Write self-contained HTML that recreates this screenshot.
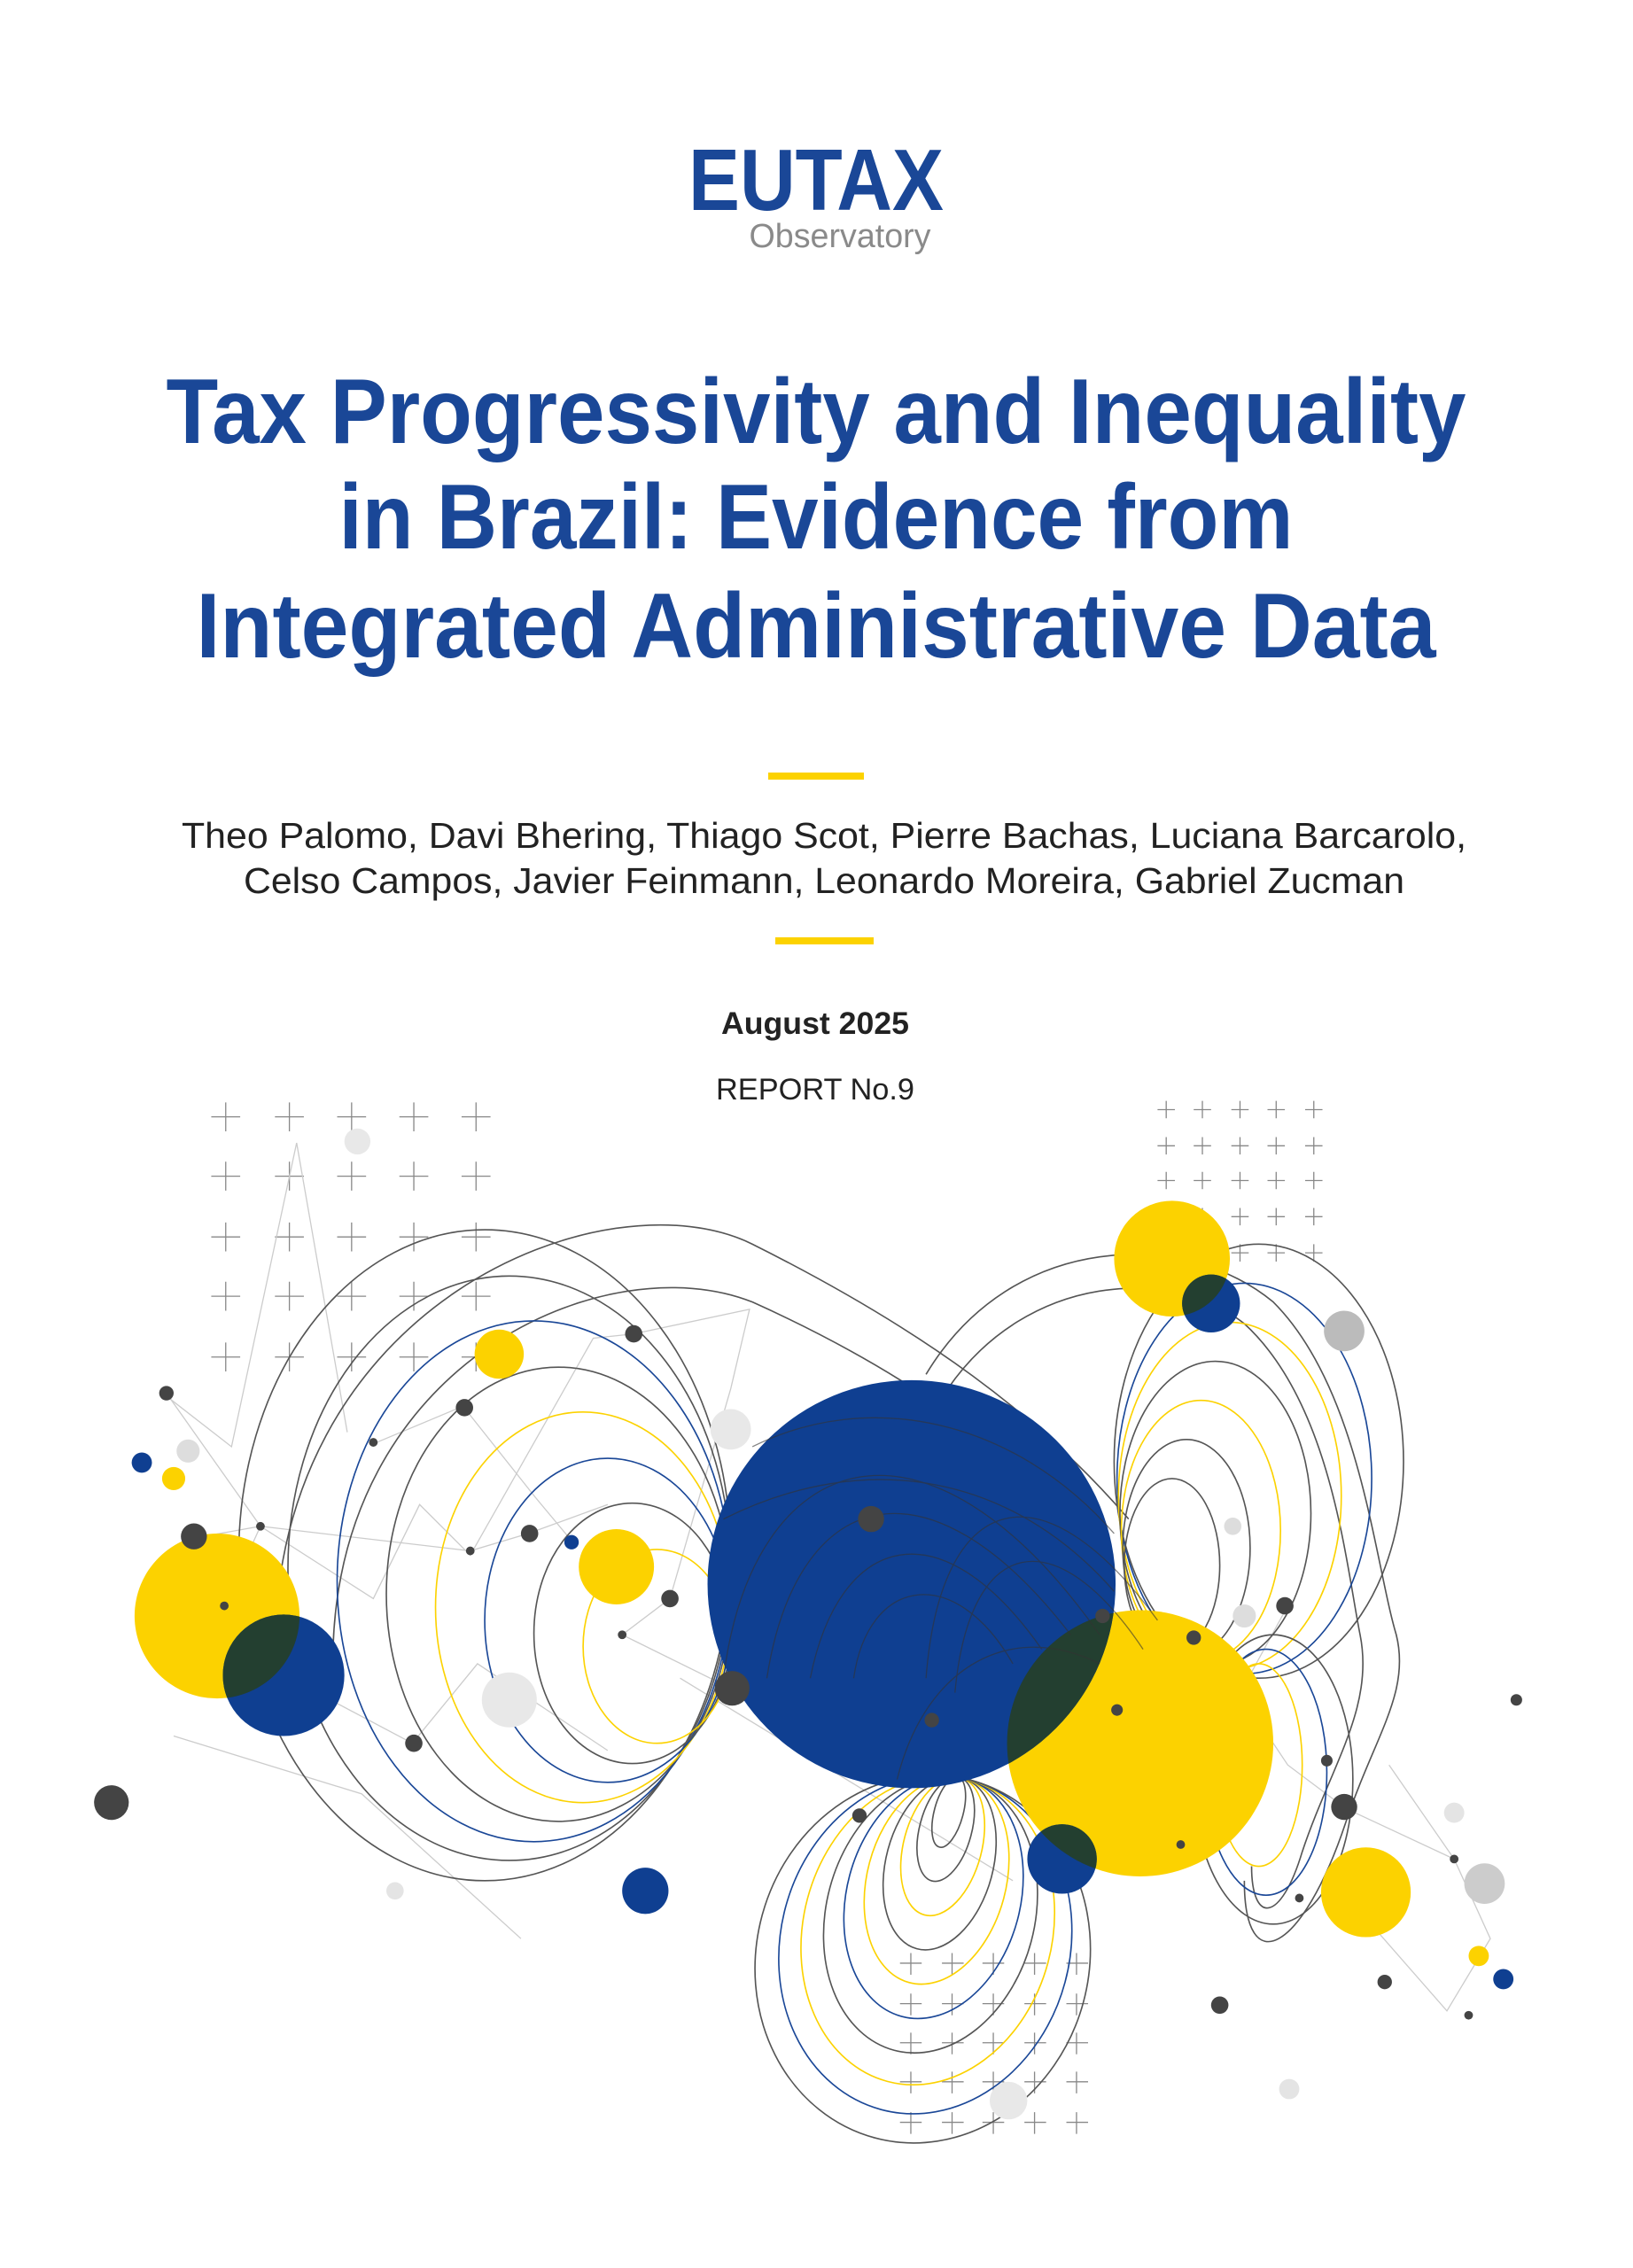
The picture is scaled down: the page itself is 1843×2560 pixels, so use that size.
<!DOCTYPE html>
<html><head><meta charset="utf-8"><style>
html,body{margin:0;padding:0;background:#fff;}
body{width:1843px;height:2560px;position:relative;overflow:hidden;}
svg{position:absolute;left:0;top:0;}
</style></head><body>
<svg width="1843" height="2560" viewBox="0 0 1843 2560" style="font-family:'Liberation Sans',sans-serif">
<text x="921" y="237" text-anchor="middle" font-size="98" font-weight="bold" fill="#1a4797" textLength="288" lengthAdjust="spacingAndGlyphs">EUTAX</text>
<text x="948" y="279" text-anchor="middle" font-size="38" fill="#8a8a8a" textLength="205" lengthAdjust="spacingAndGlyphs">Observatory</text>
<g font-size="104" font-weight="bold" fill="#1a4797" text-anchor="middle">
<text x="921" y="500" textLength="1467" lengthAdjust="spacingAndGlyphs">Tax Progressivity and Inequality</text>
<text x="921" y="619" textLength="1077" lengthAdjust="spacingAndGlyphs">in Brazil: Evidence from</text>
<text x="921" y="742" textLength="1399" lengthAdjust="spacingAndGlyphs">Integrated Administrative Data</text>
</g>
<rect x="867" y="872" width="108" height="8" fill="#fcd200"/>
<g font-size="41" fill="#222" text-anchor="middle">
<text x="930" y="957" textLength="1450" lengthAdjust="spacingAndGlyphs">Theo Palomo, Davi Bhering, Thiago Scot, Pierre Bachas, Luciana Barcarolo,</text>
<text x="930" y="1008" textLength="1310" lengthAdjust="spacingAndGlyphs">Celso Campos, Javier Feinmann, Leonardo Moreira, Gabriel Zucman</text>
</g>
<rect x="875" y="1058" width="111" height="8" fill="#fcd200"/>
<text x="920" y="1167" text-anchor="middle" font-size="35" font-weight="bold" fill="#222" textLength="212" lengthAdjust="spacingAndGlyphs">August 2025</text>
<text x="920" y="1241" text-anchor="middle" font-size="34" fill="#222" textLength="224" lengthAdjust="spacingAndGlyphs">REPORT No.9</text>
</svg>
<svg width="1843" height="2560" viewBox="0 0 1128.6 1567.7">
<defs>
<clipPath id="cy1"><circle cx="630" cy="1095" r="141"/></clipPath>
<clipPath id="cy2"><circle cx="150" cy="1117" r="57"/></clipPath>
<clipPath id="cy3"><circle cx="810" cy="870" r="40"/></clipPath>
<clipPath id="cy4"><circle cx="788" cy="1205" r="92"/></clipPath>
</defs>
<g stroke="#888" stroke-width="0.8">
<path d="M146 772h20M156 762v20M190 772h20M200 762v20M233 772h20M243 762v20M276 772h20M286 762v20M319 772h20M329 762v20
M146 813h20M156 803v20M190 813h20M200 803v20M233 813h20M243 803v20M276 813h20M286 803v20M319 813h20M329 803v20
M146 855h20M156 845v20M190 855h20M200 845v20M233 855h20M243 845v20M276 855h20M286 845v20M319 855h20M329 845v20
M146 896h20M156 886v20M190 896h20M200 886v20M233 896h20M243 886v20M276 896h20M286 886v20M319 896h20M329 886v20
M146 938h20M156 928v20M190 938h20M200 928v20M233 938h20M243 928v20M276 938h20M286 928v20M319 938h20M329 928v20"/>
<path d="M800 767h12M806 761v12M825 767h12M831 761v12M851 767h12M857 761v12M876 767h12M882 761v12M902 767h12M908 761v12
M800 792h12M806 786v12M825 792h12M831 786v12M851 792h12M857 786v12M876 792h12M882 786v12M902 792h12M908 786v12
M800 816h12M806 810v12M825 816h12M831 810v12M851 816h12M857 810v12M876 816h12M882 810v12M902 816h12M908 810v12
M800 841h12M806 835v12M825 841h12M831 835v12M851 841h12M857 835v12M876 841h12M882 835v12M902 841h12M908 835v12
M800 866h12M806 860v12M825 866h12M831 860v12M851 866h12M857 860v12M876 866h12M882 860v12M902 866h12M908 860v12"/>
<path d="M622 1357h15M629.5 1350v15M651 1357h15M658 1350v15M679 1357h15M686.5 1350v15M708 1357h15M715 1350v15M737 1357h15M744 1350v15
M622 1385h15M629.5 1378v15M651 1385h15M658 1378v15M679 1385h15M686.5 1378v15M708 1385h15M715 1378v15M737 1385h15M744 1378v15
M622 1412h15M629.5 1405v15M651 1412h15M658 1405v15M679 1412h15M686.5 1405v15M708 1412h15M715 1405v15M737 1412h15M744 1405v15
M622 1439h15M629.5 1432v15M651 1439h15M658 1432v15M679 1439h15M686.5 1432v15M708 1439h15M715 1432v15M737 1439h15M744 1432v15
M622 1467h15M629.5 1460v15M651 1467h15M658 1460v15M679 1467h15M686.5 1460v15M708 1467h15M715 1460v15M737 1467h15M744 1460v15"/>
</g>
<g stroke="#ccc" stroke-width="0.8" fill="none">
<path d="M115 963L180 1055L258 1105L290 1040L325 1075L410 925L438 922L518 905L505 960L463 1105L430 1130L505 1167"/>
<path d="M180 1055L325 1072L365 1060L420 1040M258 998L320 972L370 1035L395 1065M135 1063L180 1055L155 1110L200 1160L285 1205L330 1150L420 1210"/>
<path d="M205 790L160 1000L115 965M205 790L240 990M930 1250L1005 1285L1030 1340L1000 1390L930 1310L920 1320M1005 1285L960 1220"/>
<path d="M890 1110L860 1165L830 1130L890 1220L930 1250M120 1200L250 1240L360 1340M470 1160L700 1300"/>
</g>
<g fill="none" stroke-width="1">
<path d="M190 1150C185 900 420 810 520 860C640 920 720 980 780 1050" stroke="#555"/>
<path d="M230 1150C230 940 420 860 520 900C620 945 700 1000 760 1070" stroke="#555"/>
<path d="M640 950C700 850 820 850 880 900C940 960 950 1080 965 1130C975 1170 950 1200 930 1260C900 1350 860 1370 860 1300" stroke="#555"/>
<path d="M655 960C710 880 810 875 860 915C920 970 930 1080 940 1130C950 1180 920 1220 900 1280C885 1330 865 1330 865 1290" stroke="#555"/>
</g>
<g fill="none" stroke-width="1">
<ellipse cx="335" cy="1075" rx="170" ry="225" stroke="#555"/>
<ellipse cx="352" cy="1084" rx="153" ry="202" stroke="#555"/>
<ellipse cx="369" cy="1093" rx="136" ry="180" stroke="#1a4797"/>
<ellipse cx="386" cy="1102" rx="119" ry="157" stroke="#555"/>
<ellipse cx="403" cy="1111" rx="102" ry="135" stroke="#fcd200"/>
<ellipse cx="420" cy="1120" rx="85" ry="112" stroke="#1a4797"/>
<ellipse cx="437" cy="1129" rx="68" ry="90" stroke="#555"/>
<ellipse cx="454" cy="1138" rx="51" ry="67" stroke="#fcd200"/>
</g>
<g fill="none" stroke-width="1">
<ellipse cx="870" cy="1010" rx="100" ry="150" stroke="#555"/>
<ellipse cx="860" cy="1022" rx="88" ry="135" stroke="#1a4797"/>
<ellipse cx="850" cy="1034" rx="77" ry="120" stroke="#fcd200"/>
<ellipse cx="840" cy="1046" rx="66" ry="105" stroke="#555"/>
<ellipse cx="830" cy="1058" rx="55" ry="90" stroke="#fcd200"/>
<ellipse cx="820" cy="1070" rx="44" ry="75" stroke="#555"/>
<ellipse cx="810" cy="1082" rx="33" ry="60" stroke="#555"/>
<ellipse cx="880" cy="1230" rx="55" ry="100" stroke="#555"/>
<ellipse cx="875" cy="1225" rx="42" ry="85" stroke="#1a4797"/>
<ellipse cx="870" cy="1220" rx="30" ry="70" stroke="#fcd200"/>
</g>
<g fill="none" stroke-width="1">
<ellipse cx="655.7" cy="1252.6" rx="10" ry="25" transform="rotate(15 655.7 1252.6)" stroke="#555"/>
<ellipse cx="653.6" cy="1264.4" rx="18" ry="37" transform="rotate(15 653.6 1264.4)" stroke="#555"/>
<ellipse cx="651.5" cy="1276.3" rx="27" ry="49" transform="rotate(15 651.5 1276.3)" stroke="#fcd200"/>
<ellipse cx="649.4" cy="1288.1" rx="37" ry="61" transform="rotate(15 649.4 1288.1)" stroke="#555"/>
<ellipse cx="647.3" cy="1299.9" rx="48" ry="73" transform="rotate(15 647.3 1299.9)" stroke="#fcd200"/>
<ellipse cx="645.2" cy="1311.7" rx="60" ry="85" transform="rotate(15 645.2 1311.7)" stroke="#1a4797"/>
<ellipse cx="643.1" cy="1323.5" rx="72" ry="97" transform="rotate(15 643.1 1323.5)" stroke="#555"/>
<ellipse cx="641.2" cy="1334.4" rx="86" ry="108" transform="rotate(15 641.2 1334.4)" stroke="#fcd200"/>
<ellipse cx="639.5" cy="1344.2" rx="100" ry="118" transform="rotate(15 639.5 1344.2)" stroke="#1a4797"/>
<ellipse cx="637.7" cy="1354.1" rx="115" ry="128" transform="rotate(15 637.7 1354.1)" stroke="#555"/>
</g>
<g>
<circle cx="788" cy="1205" r="92" fill="#fcd200"/>
<circle cx="150" cy="1117" r="57" fill="#fcd200"/>
<circle cx="810" cy="870" r="40" fill="#fcd200"/>
<circle cx="426" cy="1083" r="26" fill="#fcd200"/>
<circle cx="345" cy="936" r="17" fill="#fcd200"/>
<circle cx="944" cy="1308" r="31" fill="#fcd200"/>
<circle cx="120" cy="1022" r="8" fill="#fcd200"/>
<circle cx="1022" cy="1352" r="7" fill="#fcd200"/>
<circle cx="630" cy="1095" r="141" fill="#0f3f91"/>
<circle cx="196" cy="1158" r="42" fill="#0f3f91"/>
<circle cx="837" cy="901" r="20" fill="#0f3f91"/>
<circle cx="734" cy="1285" r="24" fill="#0f3f91"/>
<circle cx="446" cy="1307" r="16" fill="#0f3f91"/>
<circle cx="98" cy="1011" r="7" fill="#0f3f91"/>
<circle cx="1039" cy="1368" r="7" fill="#0f3f91"/>
<circle cx="395" cy="1066" r="5" fill="#0f3f91"/>
<circle cx="788" cy="1205" r="92" fill="#233f30" clip-path="url(#cy1)"/>
<circle cx="196" cy="1158" r="42" fill="#233f30" clip-path="url(#cy2)"/>
<circle cx="837" cy="901" r="20" fill="#233f30" clip-path="url(#cy3)"/>
<circle cx="734" cy="1285" r="24" fill="#233f30" clip-path="url(#cy4)"/>
</g>
<g fill="none" stroke="#333" stroke-width="0.8" opacity="0.6">
<path d="M500 1160C520 1000 640 960 760 1130M530 1160C550 1030 640 1000 740 1130M560 1160C580 1060 650 1040 720 1140M590 1160C600 1090 660 1080 700 1150"/>
<path d="M640 1160C650 1030 720 1010 800 1120M660 1170C670 1060 730 1050 790 1140"/>
<path d="M520 1000C600 960 700 980 770 1060M500 1050C600 1000 700 1020 770 1100M620 1230C640 1150 700 1120 760 1150"/>
</g>
<g fill="#bbb">
<circle cx="929" cy="920" r="14"/><circle cx="1026" cy="1302" r="14" fill="#ccc"/>
<circle cx="352" cy="1175" r="19" fill="#e8e8e8"/><circle cx="505" cy="988" r="14" fill="#e8e8e8"/>
<circle cx="247" cy="789" r="9" fill="#e8e8e8"/><circle cx="697" cy="1452" r="13" fill="#e8e8e8"/>
<circle cx="860" cy="1117" r="8" fill="#ddd"/><circle cx="852" cy="1055" r="6" fill="#ddd"/>
<circle cx="130" cy="1003" r="8" fill="#ddd"/><circle cx="1005" cy="1253" r="7" fill="#e4e4e4"/>
<circle cx="891" cy="1444" r="7" fill="#e4e4e4"/><circle cx="273" cy="1307" r="6" fill="#e4e4e4"/>
</g>
<g fill="#444">
<circle cx="77" cy="1246" r="12"/><circle cx="506" cy="1167" r="12"/><circle cx="602" cy="1050" r="9"/>
<circle cx="134" cy="1062" r="9"/><circle cx="115" cy="963" r="5"/><circle cx="321" cy="973" r="6"/>
<circle cx="438" cy="922" r="6"/><circle cx="286" cy="1205" r="6"/><circle cx="366" cy="1060" r="6"/>
<circle cx="463" cy="1105" r="6"/><circle cx="929" cy="1249" r="9"/><circle cx="843" cy="1386" r="6"/>
<circle cx="888" cy="1110" r="6"/><circle cx="825" cy="1132" r="5"/><circle cx="917" cy="1217" r="4"/>
<circle cx="1048" cy="1175" r="4"/><circle cx="957" cy="1370" r="5"/><circle cx="594" cy="1255" r="5"/>
<circle cx="644" cy="1189" r="5"/><circle cx="762" cy="1117" r="5"/><circle cx="772" cy="1182" r="4"/>
<circle cx="816" cy="1275" r="3"/><circle cx="258" cy="997" r="3"/><circle cx="155" cy="1110" r="3"/>
<circle cx="180" cy="1055" r="3"/><circle cx="325" cy="1072" r="3"/><circle cx="430" cy="1130" r="3"/>
<circle cx="1005" cy="1285" r="3"/><circle cx="1015" cy="1393" r="3"/><circle cx="898" cy="1312" r="3"/>
</g>
</svg>
</body></html>
